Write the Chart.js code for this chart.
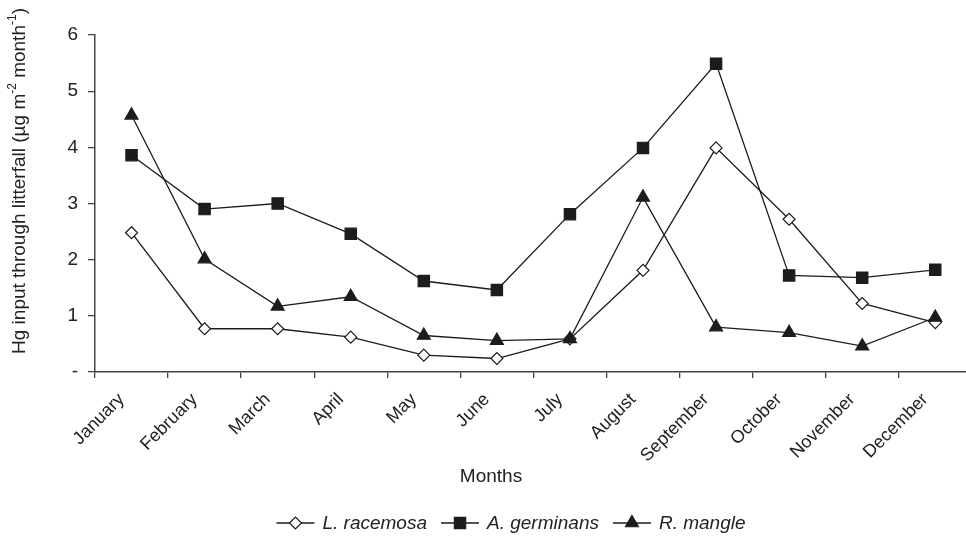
<!DOCTYPE html>
<html>
<head>
<meta charset="utf-8">
<script src="https://cdn.jsdelivr.net/npm/chart.js@4/dist/chart.umd.min.js"></script>
<style>
  html, body { margin: 0; padding: 0; background: #fff; overflow: hidden; }
  #wrap { width: 981px; height: 536px; }
</style>
</head>
<body>
<div id="wrap"><canvas id="chartHg" width="981" height="536"></canvas></div>
<script>
const months = ['January', 'February', 'March', 'April', 'May', 'June', 'July', 'August', 'September', 'October', 'November', 'December']
const racemosa = [2.48, 0.77, 0.77, 0.62, 0.30, 0.24, 0.59, 1.81, 3.99, 2.72, 1.22, 0.88]
const germinans = [3.86, 2.90, 3.00, 2.46, 1.62, 1.46, 2.81, 3.99, 5.49, 1.72, 1.68, 1.82]
const mangle = [4.57, 2.01, 1.17, 1.34, 0.65, 0.56, 0.59, 3.11, 0.80, 0.70, 0.46, 0.97]
const seriesNames = ['L. racemosa', 'A. germinans', 'R. mangle']
const xTitle = 'Months'

const FONT = '"Liberation Sans", Arial, sans-serif';
const INK = '#1c1c1c';

// titles + legend drawn by hand (legend has line through the marker)
var extras = {
    id: 'extras',
    afterDraw(chart) {
        var ctx = chart.ctx;
        ctx.save();
        ctx.fillStyle = '#222';
        ctx.textBaseline = 'middle';

        ctx.font = '19px ' + FONT;
        ctx.textAlign = 'center';
        ctx.fillText(xTitle, 491, 477);

        // y title with superscripts
        var parts = [['Hg input through litterfall (\u00b5g m', false], ['-2', true], [' month', false], ['-1', true], [')', false]];
        var total = 0;
        parts.forEach(function (p) {
            ctx.font = (p[1] ? '12px ' : '19px ') + FONT;
            total += ctx.measureText(p[0]).width;
        });
        ctx.save();
        ctx.translate(20, 181);
        ctx.rotate(-Math.PI / 2);
        ctx.textAlign = 'left';
        var x = -total / 2;
        parts.forEach(function (p) {
            ctx.font = (p[1] ? '12px ' : '19px ') + FONT;
            ctx.fillText(p[0], x, p[1] ? -7 : 0);
            x += ctx.measureText(p[0]).width;
        });
        ctx.restore();

        // legend
        ctx.font = 'italic 19px ' + FONT;
        ctx.textAlign = 'left';
        var lineLen = 38, gapIn = 8, gapOut = 14;
        var widths = seriesNames.map(function (n) { return ctx.measureText(n).width; });
        var full = 0;
        widths.forEach(function (w) { full += lineLen + gapIn + w; });
        full += gapOut * (widths.length - 1);
        var lx = 511 - full / 2, ly = 523;
        chart.data.datasets.forEach(function (ds, i) {
            ctx.strokeStyle = INK;
            ctx.lineWidth = 1.3;
            ctx.beginPath();
            ctx.moveTo(lx, ly);
            ctx.lineTo(lx + lineLen, ly);
            ctx.stroke();
            ctx.fillStyle = ds.pointBackgroundColor;
            ctx.strokeStyle = ds.pointBorderColor;
            ctx.lineWidth = ds.pointBorderWidth;
            Chart.helpers.drawPoint(ctx, { pointStyle: ds.pointStyle, radius: ds.pointRadius, rotation: 0, borderWidth: ds.pointBorderWidth }, lx + lineLen / 2, ly);
            ctx.fillStyle = '#222';
            ctx.fillText(seriesNames[i], lx + lineLen + gapIn, ly + 1);
            lx += lineLen + gapIn + widths[i] + gapOut;
        });
        ctx.restore();
    }
};

function makeSet(label, data, style, radius, fill, order) {
    return {
        label: label,
        data: data,
        borderColor: INK,
        borderWidth: 1.3,
        pointStyle: style,
        pointRadius: radius,
        pointHoverRadius: radius,
        pointBackgroundColor: fill,
        pointBorderColor: INK,
        pointBorderWidth: 1.2,
        tension: 0,
        fill: false,
        order: order
    };
}

var ctxHg = document.getElementById('chartHg').getContext('2d');
var chartHg = new Chart(ctxHg, {
    type: 'line',
    data: {
        labels: months,
        datasets: [
            makeSet(seriesNames[0], racemosa, 'rectRot', 6, '#ffffff', 2),
            makeSet(seriesNames[1], germinans, 'rect', 8, INK, 1),
            makeSet(seriesNames[2], mangle, 'triangle', 7.5, INK, 0)
        ]
    },
    options: {
        responsive: false,
        animation: false,
        layout: { padding: { top: 35, right: 4, left: 0, bottom: 0 } },
        plugins: {
            legend: { display: false },
            tooltip: { enabled: false }
        },
        scales: {
            x: {
                offset: true,
                afterFit: function (s) { s.height = 164; },
                grid: { offset: true, drawOnChartArea: false, drawTicks: true, tickLength: 6, color: '#444', lineWidth: 1.3 },
                border: { color: '#444', width: 1.5 },
                ticks: { autoSkip: false, minRotation: 45, maxRotation: 45, padding: 11, labelOffset: -10, color: '#222', font: { family: FONT, size: 18 } }
            },
            y: {
                min: 0,
                max: 6,
                afterFit: function (s) { s.width = 95; },
                grid: { drawOnChartArea: false, drawTicks: true, tickLength: 7, color: '#444', lineWidth: 1.3 },
                border: { color: '#444', width: 1.5 },
                ticks: {
                    stepSize: 1,
                    padding: 10,
                    color: '#222',
                    font: { family: FONT, size: 19 },
                    callback: function (v) { return v === 0 ? '-' : v; }
                }
            }
        }
    },
    plugins: [extras]
});
</script>
</body>
</html>
